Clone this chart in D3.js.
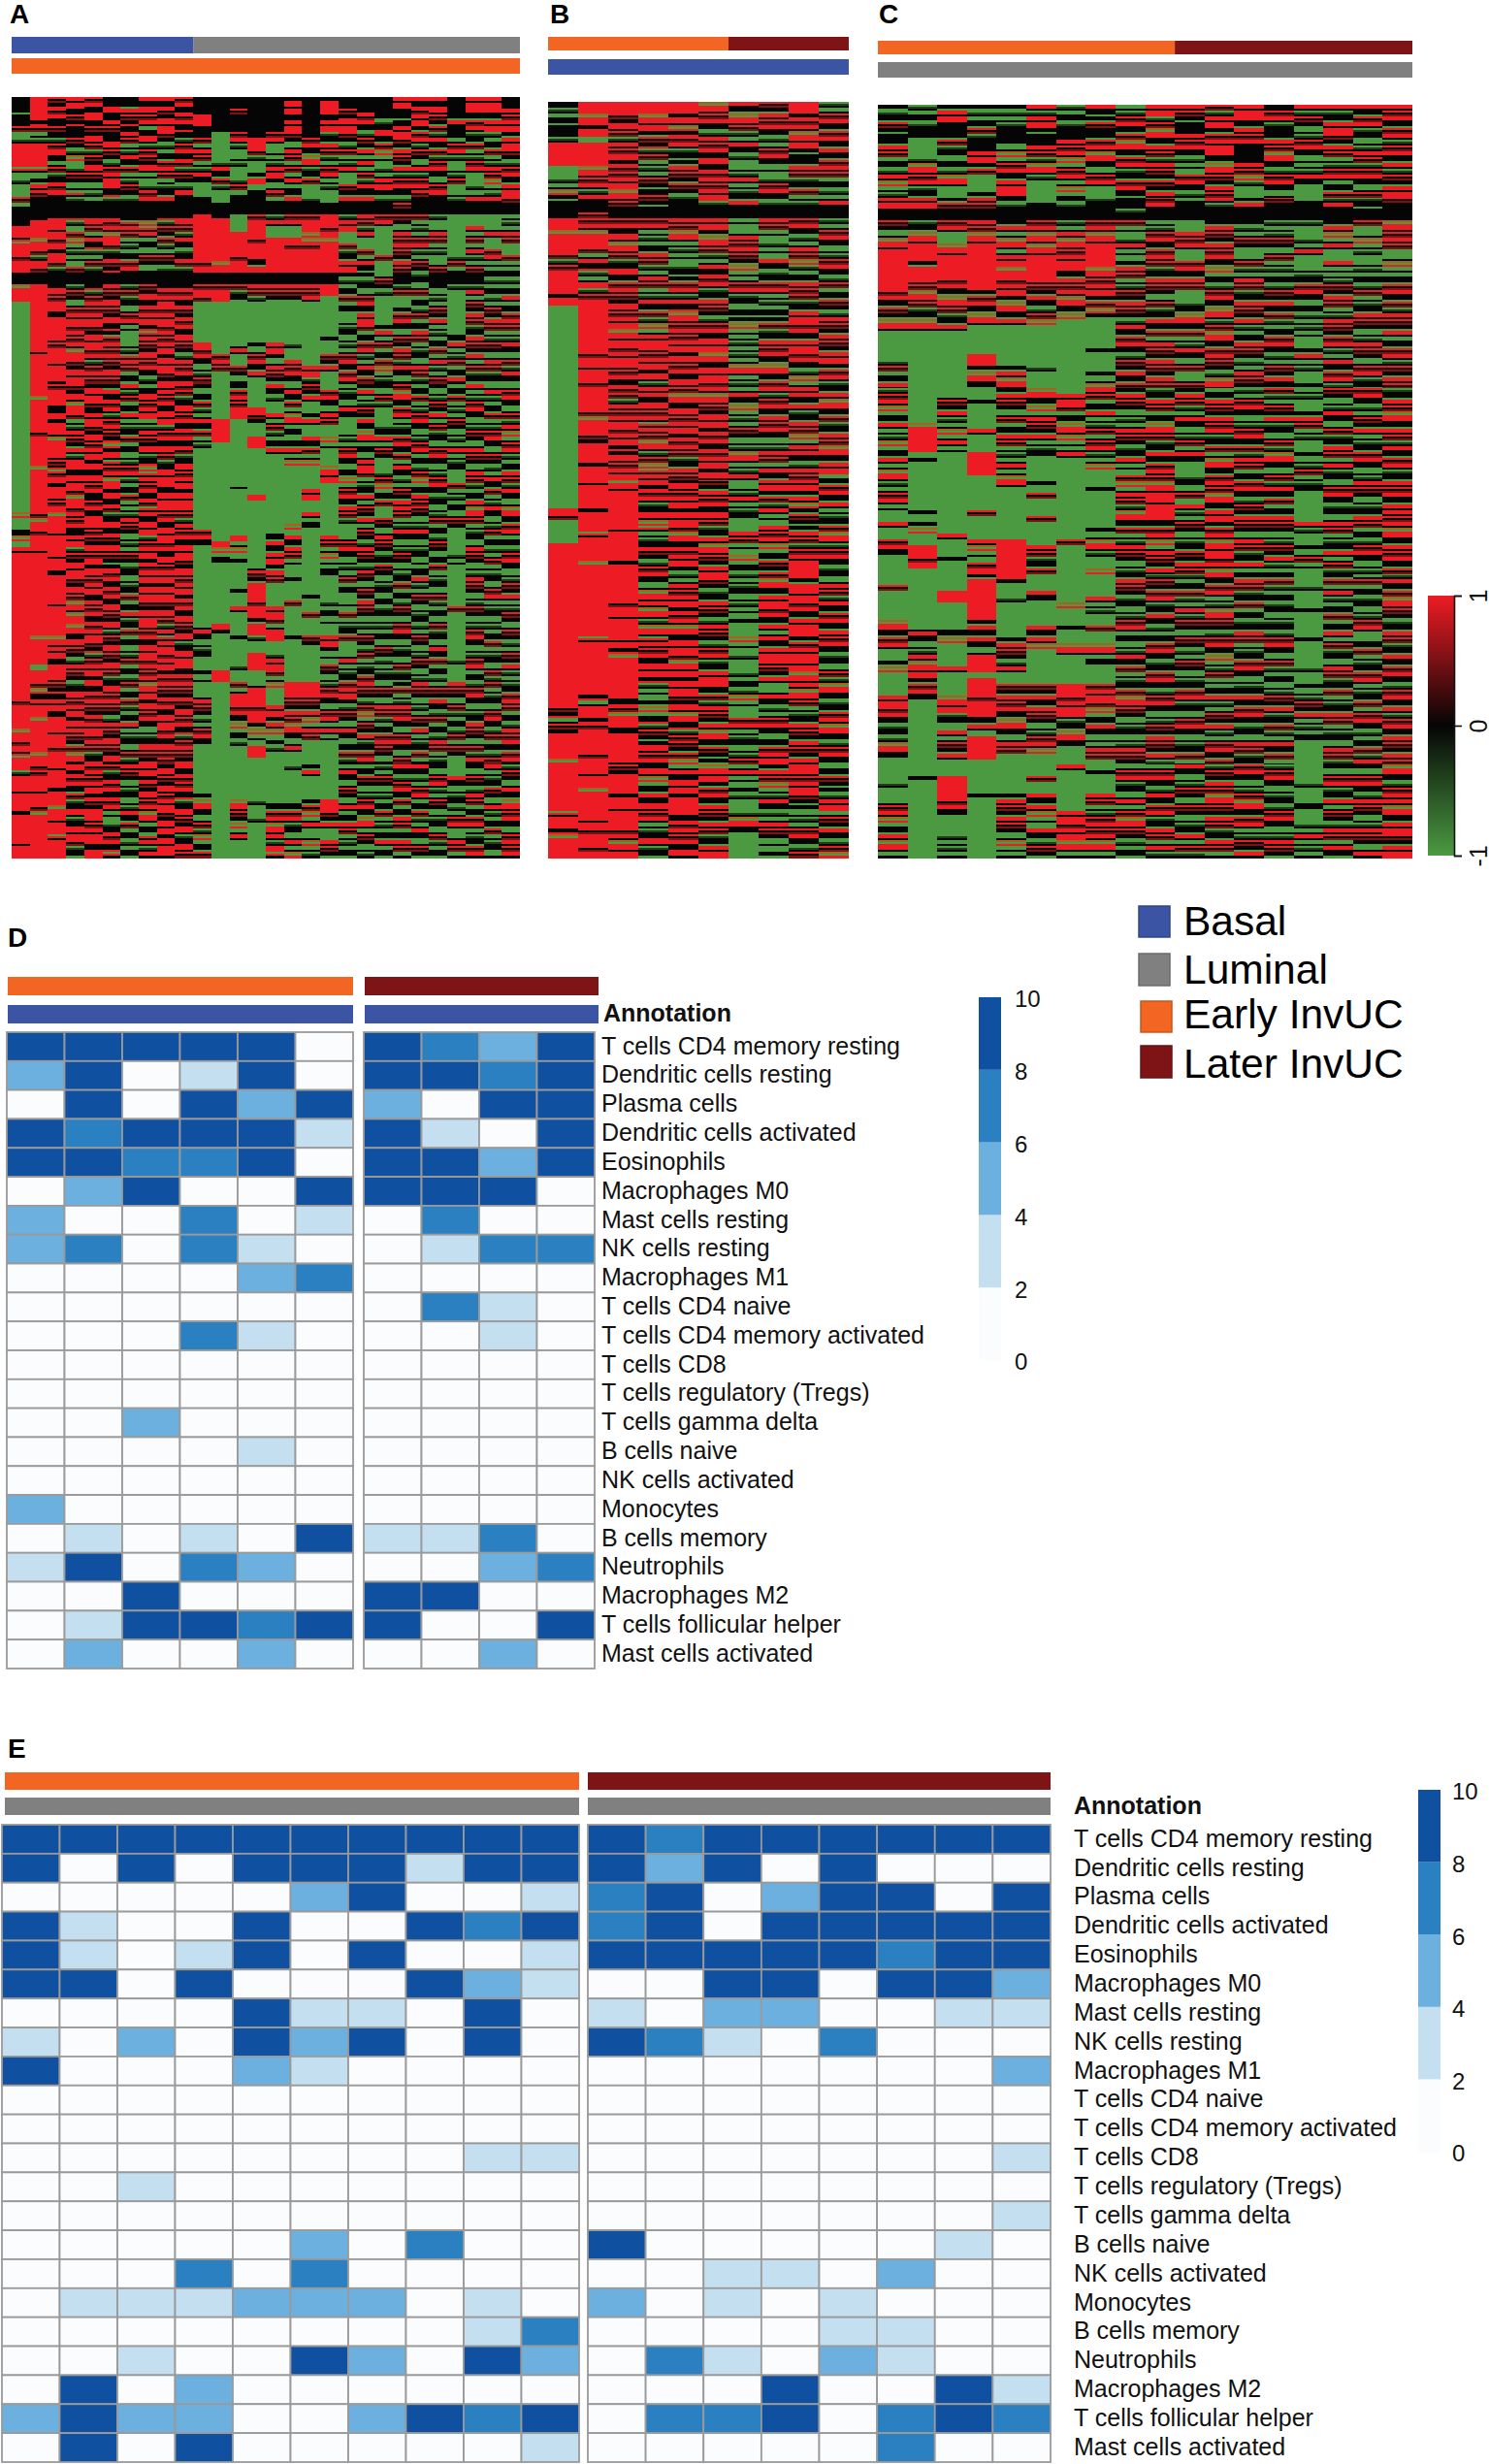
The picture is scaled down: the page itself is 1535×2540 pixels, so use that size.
<!DOCTYPE html>
<html><head><meta charset="utf-8">
<style>html,body{margin:0;padding:0;background:#fff}svg{display:block}text{font-family:"Liberation Sans",Arial,sans-serif;fill:#111}</style>
<script src="https://cdn.jsdelivr.net/npm/d3@7"></script></head><body>
<svg id="c" width="1535" height="2540"></svg>
<script>
// Heatmap stripe colours and the stripe texture each letter stands for
const stripeLevels=["G","k","R","m","d","o"];
const stripeColors=["#4b9a42","#050505","#ed1c24","#7d1114","#1f3f17","#a8611f"];
const textureKeys=["G","R","k","m","d","o","r","g","x","y","z","w"];
const textureVals=["GGG","RRR","kkk","Rkm","Gdk","oGR","RRk","GGk","GRk","kRG","kkG","kkR"];
// Heatmap columns, top to bottom
const heatA=[
"kkzkkmGdRR RRxGdGGmgk kkRRyRRmRR kkoRRGGGGG GGGGGGGGGG GGGGGGGGGG GGGGGGGGGG GoGGkoGrRR RRRRRRRRRR RRRRRRRRRR RRRmRRRRoR mRyRRdRRrR RRwRRRRrRR",
"RRRRwmgdRR RRxGzrmkkk kRRRoRmdRm kkRRRRRRRR RRRrRRRRRR RoRRRRRmRR RRRoRRRRRR RmoRmRRrRR RRRRRRRRRR RRoRRRRGRR mokrRRoRRR RRoRmmRRrR RmoRRRRRRR",
"mwmrkmkdmR kgmdwmrkkk wRrRmRwRmd kkwrmRrwRR RrmRRrRRrm RRrkRwRroR RrmymRwRrm RoRRrRRRrR RwRRRRrRRR RRorrRkRRr mwkrRkRRrR RmRRrRRRwR RoRrRRxRRR",
"rRkmwkkmzd oGdmzgxdkk wdGmogdgGm kkdmzgmrRm rmroRmwrRm wroRmgdrmz rdRrwrRmoR mrmrkrRdmw rRmwrmoroR orwrmzdrmz dwrmrRwrrm zmorRwmrzm dwrdwrRmdz",
"mrwRkmwrmd mwrmzgdgkk wrmgrwdgmd kkwdmrmrRm wrRmrdmrmw rRmkrRmwrm rRwrwrmrkm rwRrmmwrmR wrmrRkrmrw mrRmwdmrRw rwmrmwmrRm rmdwmrmrRw mwRrmrRrwR",
"kwrkrmkwrm zdmrRrwdkk wmroRmdwmw kkrmwrmwrw zmrmrmwrmz rwmrdmrmwo wrxmroRwrw mdwrwmwrmz wmrwmrwrmw rdmwrmwrmd wrmrmzdrmw rmwrmdwmrw mrgGdwmrwx",
"kzrmwkrmgd rzmgdmzdkk kxrmgdgzmr kkdmdzgmrg GGgdxrmgzr dmgzrgdzmg zgdmrdgzmg gdrmzgdgmz dzgdzmgzrd zmgzgdmgzd mgzmdgzrgd zgmdrmzgdz gdrzmgzdgz",
"rwrmrgwrdm mwrgGdmrkk koxrgzgmzg kkmwrwmrRw xrmwrmrzdg wrmrRgdrmw rdwoxrmrwm xrwrRdmrRw mrRwrRmwrR rmrwrRmrmr orRwrmrzgd wrmwrRwmwr mrorgzxrdr",
"rwmwrRmzdg zmrmgdzrkk wdmzmdgmzd kkwmrRmrRm rmrRwrRmwr rmrwrRdmrw rmdwrRrwrR rmrwrRmrwr mrRwrRmwrm drxrRmrRwm rmwmrwrRmr wrmmwrmwrm rRmwrRwrRr",
"mrwmrwkdmr wmdmzdrkkk wrmdrzdwmd kkwmrwmwmr wrmzdrmrwm mdwrmrwmrw mdwrmrRwrR rmdrmrwrRm wrmrRwmrwr mwrdwrRrwm rmwmwrmrwd mrmwrwmmrw dwrmwrdwrm",
"kkkRRkkmgr mgdrzGGkkk RRRRRRRRmR kkmRmGGGGG GGRmrzgdmz gzmdgrzmgd GGGGGGGGGG GGGGmrzGGG GGGGGGGGGG grzgdzGGzg GGgrmzdgmr zGGGGGGGGz orzgmdogzm",
"kkkkkkGGGG GdrzmdGGkk wRRRRRRRoR kkmRRGGGGG GGGGmrmGGG GGGGGRRRRG GGGGGGGGGG GGGGGGRogz GGGGGGGGGG RzGGGGGGRR GGGGGGGGGG GGGGGGGGGG GGGGGGGGGG",
"kkmkkkmrdG gdGGdmgkkk GGGRRRRmRR kkmdzGGGGG GGgrGGmzgz mrmRRGGGGG GGGGGGgGGG GGGGGRgoGz GGGGzGGrGG GGzGGGGdGG mgRRmrzogz dGGGGGGGGG ormzogrGGG",
"kkkkkkkRRm dGGzRGkkkk mRRRmRRrzR kkrmdGGGGG GGzgmrzrGG GGGRmzGGRR GGGGGGGGRG GGGGGGGGGG gmzRRRmRRz RRdGGRRRGG gRRRmRRzog GRRGGGGGGG dGGdGGGGGG",
"kkkkkkmrGg gdrRzgmgkk drGGRRRRRR kkrmzGGGGG GGrRzgrmzr zdGGrgmdgz rGGGGGGGGG GGGGgzrzrR zrmGGGGrRm gRRGGdrRmg oGGGrRzroG zdGGGGGGGG gzmrorrdRx",
"wrRkrRmzgr mgmgrgzrkk mrGGRmRRRR kkrmzGGGGG GGdGGrmrzg rzmgorgzgz rgoGGGGGGG GGGoGrzrmg GGzGGGmGGG GGzGGGGGGG RRrmzrmorz grGGdGGGGG gzmrdzgrgo",
"kkkkkkkmrz ordzmGGdkk mRRoomRRRR kkrmrGGGGG GGGGGGrRdm zrGGzrGGrz mgoGGGGrRG GrgzGGGGGG GGGGGzGGmG GGmzGGGGGG RRrmzrogrm GGGGzrGGGG zmogrGgogd",
"wRRkrRdzrm dgmrgdGGkk RRmRoRRRRR kkRRGGGGGG GzGGmzrGGG mrzgrmGGog GGGorRGGGG GGGGGrmgog gzGGGGdgzg GGrRzgGmzg dmrzgmrgrg GGGGGGGGGG RRmzrGGrmz",
"kkmwrRmzdm gdrGGmzrkk drRGGmdzrR zdgzmgzGgd zgdgmrzmrg dzgrzGGgdg mrzgzogmrz rmdGGgmrzg dgmgzGgGmg dzmGGgrgdz mrRzdmzgrz gzmdgrzgmz grgzrmgdgz",
"kkwmrzdmzr grgmdrzrkk rmdrGGmgrz zdzgmrzrRm gzmrdgrzmz rgdmzrzorg zgrRmgdzrg mzrgmzdrmz dmzgmzrmzg dgmzdmgdzm rmzdmogmzr dzmrgzmzgd mrzorgmzgd",
"kkkzdwrzmo gGdgrRzdkk mrGGGGGmGG gmzdGGGGGz rgmgzmogdz gmdGGGdzrg mzGGdmogzm GGmzgrmzdz mzgdzgzdzg dgzgmzdgdz gmzgrmdgzm rmzgdgmzgd gzmgdgzrgz",
"rRkzkrRmzr mzrdmrzdmk mzgrmrmzrm kkdmGGzmrz gmzrmdrzgm orzmrgdzmr zmgrzdgmzr rmgdrzgdmz gdzmgzdmzg mrzgdzgmdz zmgdrmrzgm rzgmrzdmrz mgzrmgzrmg",
"rwmrRzmrdm zgrdmrmkkk mgdgmrdgmz dzgmgzdmgz rmgdzgrmdg zmgdmrzgdm rgzdmogzrm mzgdrzgdzg gzrdgmzgdz dgmzgdmzgd rmzgdgmzrg dzmgrzdgmr gzmdgrzgmz",
"rwrmzmdrzm dmrzgmrkkk dGgrmgdGgm kkzgdgmzrg dgzmgrdgmz gdmzrgmdzg mrzgdmrzdz gdmgzdmzgz mgdzgmdgzg mdzgrzmgzd gmzrzdmgzd rmgdzgmrdg mzgdzgmdgz",
"kkkzrkkgmr dGgdmGgdkk GGGGGGGdmg kkdGGGGGGG gzrgdmgzrg zmgdgmzgdg rgdzGGmgdg zgmzGGGGdg GGGGGGGmGG GGGGGGdGGG rmzgmdgzdm gmzGGGrzgd zdgmrGgrmg",
"rRrzmrdzmg dmrGGdgrkk GGrgmgrdgm kkdrgmzrmd zrmzrgmdzr gdmrzgdmzg rmzgrmdgzr ormgdzgrmz gdrmzgdmzg dmrzgdmrgz dmrzgdzrmz gmdrzgmzdr mgzmrgdzmr",
"rRrzrRdgzm gdrmogdrkk GGgrGGmrgg zdgzdgmzrm gdmzgrmdzg rdgzmgdmrz gmzdgrzmgd rzgdmgzdgm gdzgmrgdzg dgzmgdzgmd mgdzgmrzdm gzdmrgdzmz grdgzmgdzg",
"kkrmrRzrRm zdmrzrRmkk gdgrmGGmgg zdgzrgzmrm gdrzgmdrzg mrzgmdrogm rdgzrmdrzg orzmrgzdmr zgdmzrgdmz gmzdgmzrdg dzmrmgzdrm rzmrdmzgrz ormrzgmrmr"
];
const heatB=[
"kdgzkkdRRR RGGdgozkkk RRoRRRmdmR RRRwRGGGGG GGGGGGGGGG GGGGGGGGGG GGGGGGGGGG RmGGGGRRRR RRRRRRRRRR RRRRRRRRRR RRRRmwgmwR RRRoRRRRRR RRxRRwoRRR",
"RRoRwRGRRR Rormrdrkkm mroRRmgrwd gRdmRRRRRR RRRmRrRRmR RRRmoRRmwR RRwRRrRRRR wRRRxRRRRo RRRRRRRRRR RRxRRRRRRR RRwgRRwmRR RRmRRrRRoR RRRrRmRRmR",
"RRmwrmdrmR wmmrRormkk mrwrormdwr zmrmwrmrRo rRmrRrmrwm mdrmrRmrRw wrmrRorRRR RRRrRRRRRw RRRRRRmRrR RRrRwoRRRR RRrwmoRrwR RRRrmwRRRw RrRRRmrorR",
"RRorRzmwdm gdgmzkmzkk mrgdgzrmdg rmgdrzmdog rRrmrRwrdr rwrmrxrmor dmoxrRwmrd wroxgdwmzd mrzgorrord orxrmrwrRw dgGzogwdmz wrmrwrogzr wrmrgdwrdz",
"RRwrowmrdz zrmzmzdkkk rmorgdgGdz zmrdrwormr mrRwrmrwrm orwrmrRwmr mdzrmwrmrR wrRmorwmrR zdgrmrRwmr orwrRmorRw rRmwrorwdm mzmogrwrRw RRrwmrmrwr",
"ormrzdrmrw rwmrmrRdkk rRzormdgrw mrdzrmzdmr wrRorwrRmr ormwrRwmrw mrRwrmzrmr wrmdzrormz rRmzdzrmzd rmzdmrdzrR rzmdrmzror zmzzorRzmr zrmzrmdzrR",
"rzormdgrzd Ggdrgdzrkk gGgrmrmzog gmrdzgzzog gdgdgorgdg rzogdgmzgd orgdrGgdrg dzGGrmgGog zdgdzgdgGz GGogGdGGdg zdogGGmrgd zgdmgrgGzd GGdorzGGGG",
"mzrmrzdgmr zgGdmrzdkk rmgGdgGrzd zmrgdgzzmd zrmrzorzmr dmrzrmrzgd rmgrzrRzmd rgGrmrogzm zmorzrRmrz rgrzrRrmzr Ggrzdgmrzg zmrRzrmogd rzdgrmzgGz",
"RRwmrorRzk zrmdzmgdkk mrzdgrmodg zrmmdzrRmr zrRmrzdogr rzrdzrmogr rzdrmrRzro zmzzrmdmrR RRzRrRmrzr RRzmrRrRor rormgdzrmz rmzrRrmrRm zzgdgmrzdm",
"dgmrzmrzrz mrmgzdgrkk dgmrzgdmrz dmgzmzdrmz rmzrRzmrdz rorzmdzrmo rzrRgzmrzr gdzmordmrz dzgrmdrzmr zrmrzdzgmd orzdzmrorz dmrzgzmzzd rRgmzrzdmo"
];
const heatC=[
"zdzmzkzrmg zdrogdrRkk mzgorRRRRR RRmrzmzorG GGGGdmgzrd mrogzrgdog zrgordgmrg GGrGGmrzGG GGGmGGGGGo rzmrGGzoGG GGrRmrzdzd orzGGGGdGG gmrogzrorg",
"dgzdkzGGGd ormrdzrRkk dzorRRRzRR rmormdzorG GGGGGGGGGG GGGGGoRRRR GzGGGGGGGG zGzoGGRRmR GGGGGGGGGG grzgdrorRz mrzGGGGGGG GGGGGGzGGG GGGGGGGGGG",
"zrRkkzmdzg zdorGGzmkk mrGGorRRRR mrzormdzrG GGGGGGGGGG gmzrdgogrg GGGGGGGGGG GGGGrGGGzG GGGGRRGGGG gzoGGGGrGG GGorRdzGrg mzrGGGRRRR mrzGGGdgdg",
"zdgzmdkkrR zmGGGzrmkk rmorRRRRRR RRzmrzorGG GGGRRzorzG GzGGGGrGGG RRRRGGGGGG mGGGGrogGm RzRRRRRRRz rzrzgRRRGR RRmRRrzrGR RRRGGGGGGz GGGGGGGGGG",
"zdgdkkzgog mrzrRrzdkk zrgorgrRoR mrRzorzrGG GGGGGzrorz rmzgmgzrmg dgrgorGGGG GGGGGRRRRR RRzGGdGGGG GGzrmzdrGG mzrmrzorzg rmGGGGGGGz rmzrmzgogg",
"rdrRzkkrmd ordGGGGkkk mrororRRRR rmzrzdmoGG GGGGGdGGGo rzogrmzrgd zGGGGzGmGG GmGGGGrmdz mGGGrzGGGG rzroGGGGGG mzrzrmzgdm roGGGGmGGr zrogGrzdmz",
"dgzdkkrmro gmrgogzdkk dgrormrRrz rmrorzoGGG GGGGGGGGGG rRmgzorogg rGGGGGGGGG GGGGGmGGGG GGGGGGoGGG zGGorGGGGG RRmrRrdzor zGGGrGGGGG GGrRmrRorg",
"rzzmkzmror zgmrGGdkkk mrorRRRRor mrRzmozGGG GGzGGGzgor mgzrgdmgmr dgoGGGzGGG GGGzgordGG oGGGGrgdGG mGGorgzGGG mrRmogzrzg grmGGzGGGr mgdmrmrorg",
"gdmrzmorzm rdzmrzkkdk mgGdrgGzrm gdmzrmzdrz mrzdmzrzmz rmzgdgrmzd zrgGmogrmd orzmgdrmzg dzrmzdzgdm rgzgdrzmgd zmormzgdzg drmzgmrdzg rgmormzdgz",
"rRdmorzrmd rmzmzrmrkk gdmrzmrmdz rmzgmdzrzm grmzrmzrmd zrmgzormdz rzmrmorRrR Rrzmrogrmz rdmzmrdzrz dgzmrzdzmr zdmrzgdmzr mzrdgmrzdr zmrdzrmgrd",
"rmzkkrmrzd gGmrzdgkkk GGrmrGGmrz rmGGdzorzm gdrzgmGgmz rmdgrzgdmg rzGGdzgmGr dgmzgdzmzr mdgzmdgrdm zgmzdgmzgd zmrdzgmrzg dzmgrzgdmz gmzgdzrgmd",
"mdrRzmrRrz ormzrmrdkk zrmzrmrzog zdmrzordmo rzmrmzdorg zrmzrmrdzm gorzmrmorz rRzmrorRmr orzmrgdorm zdmrzogdmg gzrdgmzrdg mrzmdmzrmo rmzrmdzrmg",
"rRrzrmrkkk rmodGGzrkk zdgmzGgmdg rmdzrmzrdg zrmzdgrmzd gmrzgdmrzm drmgzmrzdm zrmzgrmdzr gzrmdzmgzd zrmgdzmrzg dzrzmrzdzg rmdzmrzgdm orzmrgdmzr",
"kmrdkzrmor zdmrzgmkkk dgdmzgmgdg zdmzrzmdgz mrzdgmzrzm dgmzrdzgmd orzgmdrzmg zrmzgdmzrd gzmdgzdzgd zdmrzgmdgz gdmzrdzmdg rzmgdmrzgd zdmrzgdrmz",
"rdmzgdmrzg gdrzGGgkkk dGGdgrGGgd zmrzgzdgdg GGzrgdGGzg dGGzrmgdGG zgdmgdzGGG GGrdGGzgmg GGGdGGGzGG GGzGGGGdGG zgdmzrgdgz GGGGGGGdGG gzGGdgrgdg",
"rdzrRmzrmg dmrgzmdrkk zrogrGGrgg dmzrmgdrmz mrdgrzmrdm zgdrzgmdzr mgrdzgmrzd zgrmgdzrgm dzmgrdgzmg zrgmdzgrmd zmgdzrmgdz grmdzgmrdz rgmzdrmgrz",
"rzmrdzgdrm dmrzgmdzkk mGgogdGgdg zdmgdzrmzg drmzgmrdzm rzdgmzrgdz mrzgdrmzgd zrmgzdmrzg dgmgzdzgdm rGgzmgdzmr gdzmgmrzdg zmdrzgmrzd rmzgdrmzgr",
"rmrzmrdmrz rdmzrRmkkk ormrmGgogg zmrzmdrmzr gzmrdmzrmd zrmorzrmdr zmrdzrmrzr rmrorzrmrz mdrzmormzd zrmdzrzmrz dmrzrdmrzr mzrmorzdmr rorzrRmzrR"
];
// Immune cell tables
const cellTypes=["T cells CD4 memory resting","Dendritic cells resting","Plasma cells","Dendritic cells activated","Eosinophils","Macrophages M0","Mast cells resting","NK cells resting","Macrophages M1","T cells CD4 naive","T cells CD4 memory activated","T cells CD8","T cells regulatory (Tregs)","T cells gamma delta","B cells naive","NK cells activated","Monocytes","B cells memory","Neutrophils","Macrophages M2","T cells follicular helper","Mast cells activated"];
const rowsDEarly=[[9,9,9,9,9,1],[5,9,1,3,9,1],[1,9,1,9,5,9],[9,7,9,9,9,3],[9,9,7,7,9,1],[1,5,9,1,1,9],[5,1,1,7,1,3],[5,7,1,7,3,1],[1,1,1,1,5,7],[1,1,1,1,1,1],[1,1,1,7,3,1],[1,1,1,1,1,1],[1,1,1,1,1,1],[1,1,5,1,1,1],[1,1,1,1,3,1],[1,1,1,1,1,1],[5,1,1,1,1,1],[1,3,1,3,1,9],[3,9,1,7,5,1],[1,1,9,1,1,1],[1,3,9,9,7,9],[1,5,1,1,5,1]];
const rowsDLater=[[9,7,5,9],[9,9,7,9],[5,1,9,9],[9,3,1,9],[9,9,5,9],[9,9,9,1],[1,7,1,1],[1,3,7,7],[1,1,1,1],[1,7,3,1],[1,1,3,1],[1,1,1,1],[1,1,1,1],[1,1,1,1],[1,1,1,1],[1,1,1,1],[1,1,1,1],[3,3,7,1],[1,1,5,7],[9,9,1,1],[9,1,1,9],[1,1,5,1]];
const rowsEEarly=[[9,9,9,9,9,9,9,9,9,9],[9,1,9,1,9,9,9,3,9,9],[1,1,1,1,1,5,9,1,1,3],[9,3,1,1,9,1,1,9,7,9],[9,3,1,3,9,1,9,1,1,3],[9,9,1,9,1,1,1,9,5,3],[1,1,1,1,9,3,3,1,9,1],[3,1,5,1,9,5,9,1,9,1],[9,1,1,1,5,3,1,1,1,1],[1,1,1,1,1,1,1,1,1,1],[1,1,1,1,1,1,1,1,1,1],[1,1,1,1,1,1,1,1,3,3],[1,1,3,1,1,1,1,1,1,1],[1,1,1,1,1,1,1,1,1,1],[1,1,1,1,1,5,1,7,1,1],[1,1,1,7,1,7,1,1,1,1],[1,3,3,3,5,5,5,1,3,1],[1,1,1,1,1,1,1,1,3,7],[1,1,3,1,1,9,5,1,9,5],[1,9,1,5,1,1,1,1,1,1],[5,9,5,5,1,1,5,9,7,9],[1,9,1,9,1,1,1,1,1,3]];
const rowsELater=[[9,7,9,9,9,9,9,9],[9,5,9,1,9,1,1,1],[7,9,1,5,9,9,1,9],[7,9,1,9,9,9,9,9],[9,9,9,9,9,7,9,9],[1,1,9,9,1,9,9,5],[3,1,5,5,1,1,3,3],[9,7,3,1,7,1,1,1],[1,1,1,1,1,1,1,5],[1,1,1,1,1,1,1,1],[1,1,1,1,1,1,1,1],[1,1,1,1,1,1,1,3],[1,1,1,1,1,1,1,1],[1,1,1,1,1,1,1,3],[9,1,1,1,1,1,3,1],[1,1,3,3,1,5,1,1],[5,1,3,1,3,1,1,1],[1,1,1,1,3,3,1,1],[1,7,3,1,5,3,1,1],[1,1,1,9,1,1,9,3],[1,7,7,9,1,7,9,7],[1,1,1,1,1,7,1,1]];
const blueSteps=["#fbfcfe","#c3dff0","#6bb0de","#2a80c0","#0f50a0"];
const blueBreaks=[2,4,6,8];
const blueTicks=[0,2,4,6,8,10];
const annotColors={Basal:"#3b54a4",Luminal:"#808080","Early InvUC":"#f36523","Later InvUC":"#7e1416"};
const legendNames=["Basal","Luminal","Early InvUC","Later InvUC"];
const panelLetters=["A","B","C","D","E"];
const redGreenStops=[-1,0,1], redGreenColors=["#4b9a42","#050505","#ed1c24"], redGreenTicks=[1,0,-1];

const svg=d3.select("#c");
const stripeColor=d3.scaleOrdinal(stripeLevels,stripeColors);
const texture=d3.scaleOrdinal(textureKeys,textureVals);
const blueColor=d3.scaleThreshold(blueBreaks,blueSteps);

function annot(x0,x1,y0,y1,segs){
  const total=d3.sum(segs,s=>s[1]);
  const x=d3.scaleLinear([0,total],[x0,x1]);
  let c=0;
  segs.forEach(s=>{
    svg.append("rect").attr("x",x(c)).attr("y",y0).attr("width",x(c+s[1])-x(c)).attr("height",y1-y0).attr("fill",annotColors[s[0]]);
    c+=s[1];
  });
}
function heat(cols,x0,x1,y0,y1){
  const g=svg.append("g").attr("shape-rendering","crispEdges");
  const x=d3.scaleBand(d3.range(cols.length),[x0,x1]);
  cols.forEach((str,i)=>{
    const cells=str.replace(/\s/g,"").split("").flatMap(c=>texture(c).split(""));
    const y=d3.scaleBand(d3.range(cells.length),[y0,y1]);
    g.selectAll(null).data(cells).join("rect")
      .attr("x",x(i)).attr("width",x.bandwidth())
      .attr("y",(d,j)=>y(j)).attr("height",y.bandwidth()+.5)
      .attr("fill",d=>stripeColor(d));
  });
}
heat(heatA,12,536,100,884);
heat(heatB,565,875,105,884);
heat(heatC,905,1456,108,884);
annot(12,536,38,55,[["Basal",10],["Luminal",18]]);
annot(12,536,60,76,[["Early InvUC",28]]);
annot(565,875,38,52,[["Early InvUC",6],["Later InvUC",4]]);
annot(565,875,61,77,[["Basal",10]]);
annot(905,1456,42,56,[["Early InvUC",10],["Later InvUC",8]]);
annot(905,1456,64,80,[["Luminal",18]]);

const letterPos=[[10,24],[567,24],[906,24],[8,976],[8,1812]];
panelLetters.forEach((t,i)=>svg.append("text").attr("x",letterPos[i][0]).attr("y",letterPos[i][1]).attr("font-size",28).attr("font-weight","bold").style("fill","#000").text(t));

// Red-green colour key
const defs=svg.append("defs");
const grad=defs.append("linearGradient").attr("id","rg").attr("x1",0).attr("x2",0).attr("y1",1).attr("y2",0);
redGreenStops.forEach((v,i)=>grad.append("stop").attr("offset",(v+1)/2).attr("stop-color",redGreenColors[i]));
const keyY=d3.scaleLinear([-1,1],[882,614]);
svg.append("rect").attr("x",1472).attr("y",614).attr("width",27).attr("height",268).attr("fill","url(#rg)");
const keyAxis=svg.append("g").attr("transform","translate(1499,0)").call(d3.axisRight(keyY).tickValues(redGreenTicks).tickFormat(d=>d===-1?"-1":d).tickSize(8));
keyAxis.selectAll("path,line").attr("stroke","#111").attr("stroke-width",1.6);
keyAxis.selectAll("text").attr("x",null).attr("dy",null).attr("transform","translate(34,0) rotate(-90)").attr("text-anchor","middle").attr("font-size",25).attr("font-family",'"Liberation Sans",Arial,sans-serif').style("fill","#111");

// Legend
const legY=[[934,966,964],[983,1016,1014],[1032,1064,1060],[1078,1111,1111]];
const legX=[1174,1174,1176,1176];
legendNames.forEach((n,i)=>{
  svg.append("rect").attr("x",legX[i]).attr("y",legY[i][0]).attr("width",32).attr("height",legY[i][1]-legY[i][0]).attr("fill",annotColors[n]).attr("stroke",d3.color(annotColors[n]).darker(.5)).attr("stroke-width",1.5);
  svg.append("text").attr("x",1220).attr("y",legY[i][2]).attr("font-size",42.5).style("fill","#000").text(n);
});

// Blue heatmaps
function blue(rows,x0,x1,y0,y1){
  const n=rows[0].length;
  const x=d3.scaleBand(d3.range(n),[x0,x1]);
  const y=d3.scaleBand(cellTypes,[y0,y1]);
  const g=svg.append("g");
  rows.forEach((r,i)=>{
    g.selectAll(null).data(r).join("rect")
      .attr("x",(d,j)=>x(j)).attr("y",y(cellTypes[i])).attr("width",x.bandwidth()).attr("height",y.bandwidth())
      .attr("fill",d=>blueColor(d)).attr("stroke","#9a9a9a").attr("stroke-width",1.8);
  });
  return y;
}
function labels(y,x){
  const g=svg.append("g");
  g.selectAll(null).data(cellTypes).join("text").attr("x",x).attr("y",d=>y(d)+y.bandwidth()/2-1).attr("dy",".35em").attr("font-size",25).text(d=>d);
}
function blueKey(x,w,top,bot,lx){
  const s=d3.scaleLinear([0,10],[bot,top]);
  const edges=[0,...blueBreaks,10];
  blueSteps.forEach((c,i)=>svg.append("rect").attr("x",x).attr("width",w).attr("y",s(edges[i+1])).attr("height",s(edges[i])-s(edges[i+1])).attr("fill",c));
  blueTicks.forEach(t=>svg.append("text").attr("x",lx).attr("y",s(t)+2).attr("dy",".35em").attr("font-size",24).text(t));
}
annot(8,364,1007,1026,[["Early InvUC",6]]);
annot(376,617,1007,1026,[["Later InvUC",4]]);
annot(8,364,1036,1055,[["Basal",6]]);
annot(376,617,1036,1055,[["Basal",4]]);
svg.append("text").attr("x",622).attr("y",1044).attr("dy",".35em").attr("font-size",25).attr("font-weight","bold").text("Annotation");
const yD=blue(rowsDEarly,7,364,1064,1720);
blue(rowsDLater,375,613,1064,1720);
labels(yD,620);
blueKey(1009,23,1028,1402,1046);

annot(5,597,1827,1845,[["Early InvUC",10]]);
annot(606,1083,1827,1845,[["Later InvUC",8]]);
annot(5,597,1853,1871,[["Luminal",10]]);
annot(606,1083,1853,1871,[["Luminal",8]]);
svg.append("text").attr("x",1107).attr("y",1861).attr("dy",".35em").attr("font-size",25).attr("font-weight","bold").text("Annotation");
const yE=blue(rowsEEarly,2,597,1881,2538);
blue(rowsELater,606,1083,1881,2538);
labels(yE,1107);
blueKey(1462,23,1845,2218,1497);
</script></body></html>
